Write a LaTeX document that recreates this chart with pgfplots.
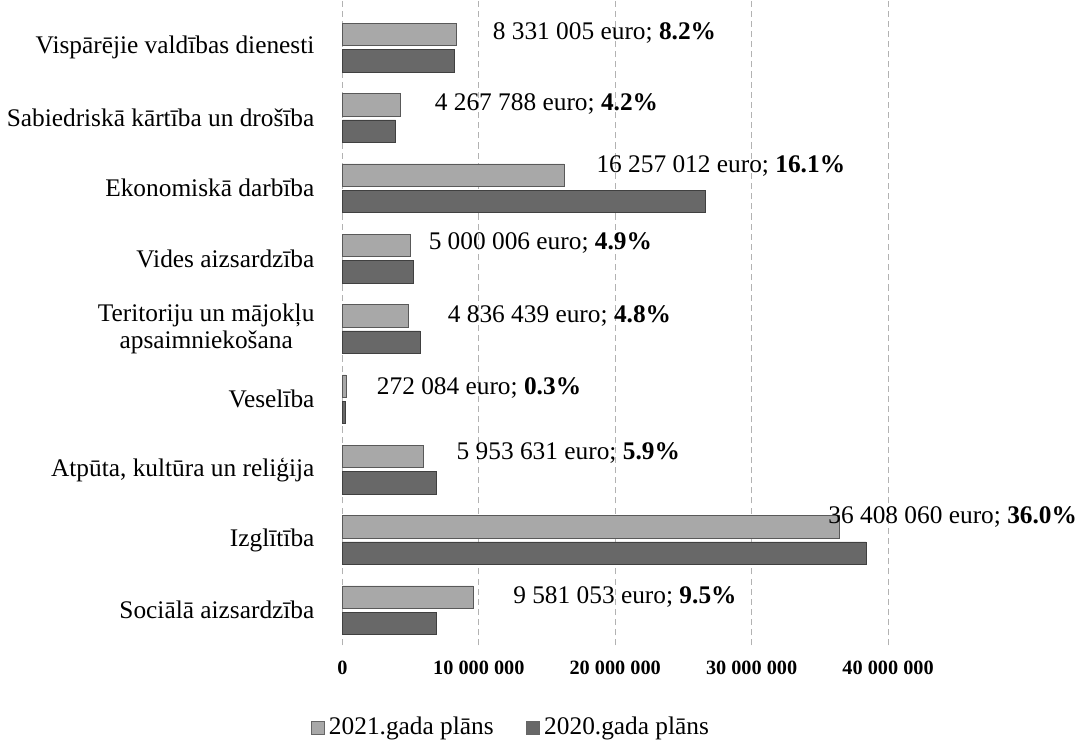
\documentclass[border=0pt]{standalone}
\usepackage{fontspec}
\setmainfont{Liberation Serif}
\usepackage{pgfplots}
\pgfplotsset{compat=1.18}

\definecolor{c2021}{RGB}{168,168,168}
\definecolor{c2020}{RGB}{104,104,104}
\tikzset{lbl/.style={anchor=west, inner sep=0pt, font=\fontsize{12.5}{15}\selectfont}}

\begin{document}
\begin{tikzpicture}
\begin{axis}[
  scale only axis, width=282.5pt, height=318pt,
  xbar, bar width=11pt,
  xmin=0, xmax=42000000, ymin=-0.5, ymax=8.67,
  xtick={0,10000000,20000000,30000000,40000000},
  xticklabels={0,10 000 000,20 000 000,30 000 000,40 000 000},
  scaled x ticks=false,
  xticklabel style={font=\fontsize{10}{12}\selectfont\bfseries, yshift=-4pt},
  ytick={0,...,8},
  yticklabels={Sociālā aizsardzība,Izglītība,{Atpūta, kultūra un reliģija},Veselība,
    {Teritoriju un mājokļu\\apsaimniekošana},Vides aizsardzība,Ekonomiskā darbība,
    Sabiedriskā kārtība un drošība,Vispārējie valdības dienesti},
  yticklabel style={align=center, font=\fontsize{12.5}{13.5}\selectfont, xshift=-6pt},
  axis line style={draw=none}, tick style={draw=none},
  xmajorgrids, grid style={gray!60, densely dashed, line width=0.5pt},
  clip=false,
  legend style={draw=none, at={(0.296,-0.098)}, anchor=north, legend columns=2,
    font=\fontsize{12.5}{15}\selectfont, /tikz/every even column/.append style={column sep=14pt}},
  legend image code/.code={\draw[#1, draw=gray!80!black] (0pt,-3.2pt) rectangle (6.5pt,3.2pt);},
]
\addplot[fill=c2021, draw=gray!70!black, line width=0.4pt, bar shift=6.5pt] coordinates {
  (9581053,0) (36408060,1) (5953631,2) (272084,3) (4836439,4) (5000006,5) (16257012,6) (4267788,7) (8331005,8)};
\addplot[fill=c2020, draw=black!75, line width=0.4pt, bar shift=-6.5pt] coordinates {
  (6900000,0) (38400000,1) (6900000,2) (200000,3) (5700000,4) (5200000,5) (26600000,6) (3900000,7) (8200000,8)};
\legend{2021.gada plāns, 2020.gada plāns}

\node[lbl] at (axis cs:11000000,8.21) {8 331 005 euro; \textbf{8.2\%}};
\node[lbl] at (axis cs:6750000,7.20) {4 267 788 euro; \textbf{4.2\%}};
\node[lbl] at (axis cs:18600000,6.32) {16 257 012 euro; \textbf{16.1\%}};
\node[lbl] at (axis cs:6300000,5.22) {5 000 006 euro; \textbf{4.9\%}};
\node[lbl] at (axis cs:7700000,4.18) {4 836 439 euro; \textbf{4.8\%}};
\node[lbl] at (axis cs:2500000,3.16) {272 084 euro; \textbf{0.3\%}};
\node[lbl] at (axis cs:8350000,2.23) {5 953 631 euro; \textbf{5.9\%}};
\node[lbl] at (axis cs:35600000,1.33) {36 408 060 euro; \textbf{36.0\%}};
\node[lbl] at (axis cs:12500000,0.19) {9 581 053 euro; \textbf{9.5\%}};
\end{axis}
\end{tikzpicture}
\end{document}
